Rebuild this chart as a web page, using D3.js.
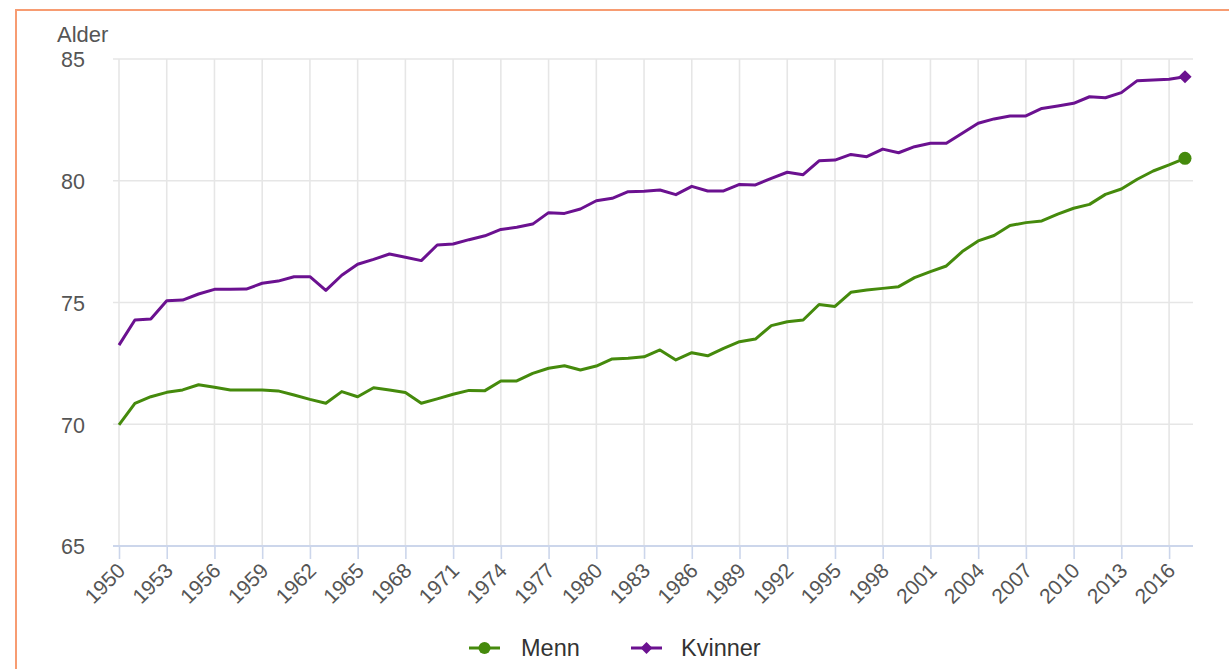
<!DOCTYPE html>
<html>
<head>
<meta charset="utf-8">
<script src="https://cdn.jsdelivr.net/npm/d3@7"></script>
<style>
  html, body { margin: 0; padding: 0; background: #ffffff; }
  svg { display: block; font-family: "Liberation Sans", Arial, sans-serif; }
</style>
</head>
<body>
<svg id="chart" width="1229" height="669"></svg>
<script>
const years = [1950,1951,1952,1953,1954,1955,1956,1957,1958,1959,
  1960,1961,1962,1963,1964,1965,1966,1967,1968,1969,
  1970,1971,1972,1973,1974,1975,1976,1977,1978,1979,
  1980,1981,1982,1983,1984,1985,1986,1987,1988,1989,
  1990,1991,1992,1993,1994,1995,1996,1997,1998,1999,
  2000,2001,2002,2003,2004,2005,2006,2007,2008,2009,
  2010,2011,2012,2013,2014,2015,2016,2017];

const menn = [69.97,70.86,71.13,71.31,71.41,71.62,71.52,71.41,71.41,71.41,
  71.37,71.20,71.02,70.86,71.34,71.13,71.50,71.41,71.30,70.86,
  71.04,71.23,71.39,71.38,71.78,71.78,72.09,72.30,72.40,72.23,
  72.39,72.68,72.71,72.77,73.05,72.64,72.94,72.81,73.12,73.39,
  73.50,74.05,74.21,74.28,74.92,74.84,75.42,75.51,75.58,75.65,
  76.02,76.27,76.50,77.09,77.53,77.75,78.16,78.28,78.35,78.63,
  78.87,79.03,79.44,79.66,80.06,80.40,80.65,80.92];

const kvinner = [73.25,74.28,74.32,75.07,75.10,75.35,75.54,75.54,75.55,75.79,
  75.88,76.06,76.06,75.50,76.12,76.57,76.77,76.99,76.86,76.72,
  77.36,77.40,77.58,77.74,78.00,78.09,78.22,78.69,78.66,78.84,
  79.18,79.28,79.55,79.57,79.62,79.43,79.77,79.58,79.58,79.85,
  79.83,80.10,80.35,80.25,80.82,80.85,81.08,80.99,81.30,81.15,
  81.40,81.54,81.54,81.95,82.36,82.54,82.66,82.66,82.97,83.07,
  83.18,83.45,83.41,83.62,84.11,84.14,84.17,84.27];

const xTicks = [1950,1953,1956,1959,1962,1965,1968,1971,1974,1977,1980,1983,
  1986,1989,1992,1995,1998,2001,2004,2007,2010,2013,2016];
const yTicks = [65,70,75,80,85];
const seriesNames = ["Menn","Kvinner"];
const seriesColors = ["#458a0c","#6b1190"];
const yTitle = "Alder";

const svg = d3.select("#chart");
const plot = {left: 113, right: 1193, top: 59, bottom: 546};

const x = d3.scaleLinear().domain([years[0], years[years.length-1]]).range([119, 1185]);
const y = d3.scaleLinear().domain([65, 85]).range([plot.bottom, plot.top]);

// Frame
svg.append("path")
  .attr("d", "M16,670 L16,10 L1230,10")
  .attr("fill", "none").attr("stroke", "#f79c72").attr("stroke-width", 2);

// Horizontal gridlines
svg.append("g").selectAll("line").data(yTicks.filter(t => t !== 65)).join("line")
  .attr("x1", plot.left).attr("x2", plot.right)
  .attr("y1", d => y(d)).attr("y2", d => y(d))
  .attr("stroke", "#e6e6e6").attr("stroke-width", 1.6);

// Vertical gridlines
svg.append("g").selectAll("line").data(xTicks).join("line")
  .attr("x1", d => x(d)).attr("x2", d => x(d))
  .attr("y1", plot.top).attr("y2", plot.bottom)
  .attr("stroke", "#e6e6e6").attr("stroke-width", 1.6);

// X axis via d3.axisBottom
const xAxis = d3.axisBottom(x).tickValues(xTicks).tickFormat(d3.format("d"))
  .tickSizeInner(13).tickSizeOuter(0);
const gx = svg.append("g").attr("transform", `translate(0,${plot.bottom})`).call(xAxis);
gx.select(".domain").remove();
gx.append("line").attr("x1", plot.left).attr("x2", plot.right).attr("y1", 0).attr("y2", 0)
  .attr("stroke", "#ccd6eb").attr("stroke-width", 2);
gx.selectAll(".tick line").attr("stroke", "#ccd6eb").attr("stroke-width", 1.6);
gx.selectAll(".tick text")
  .attr("fill", "#555555")
  .style("font-size", "21px")
  .attr("text-anchor", "end")
  .attr("x", 0).attr("y", 0).attr("dy", 0)
  .attr("transform", "translate(7,26) rotate(-45)");

// Y axis via d3.axisLeft
const yAxis = d3.axisLeft(y).tickValues(yTicks).tickSize(0).tickPadding(0);
const gy = svg.append("g").attr("transform", "translate(85,0)").call(yAxis);
gy.select(".domain").remove();
gy.selectAll(".tick text")
  .attr("fill", "#555555")
  .style("font-size", "21.5px")
  .attr("dy", "0.36em");

// Y title
svg.append("text").attr("x", 57).attr("y", 42)
  .attr("fill", "#555555").style("font-size", "22px").text(yTitle);

// Lines
const line = d3.line().x((d, i) => x(years[i])).y(d => y(d));
[menn, kvinner].forEach((vals, si) => {
  svg.append("path").datum(vals)
    .attr("fill", "none").attr("stroke", seriesColors[si])
    .attr("stroke-width", 3).attr("stroke-linejoin", "round")
    .attr("d", line);
});

// End markers
const lastIdx = years.length - 1;
svg.append("circle").attr("cx", x(years[lastIdx])).attr("cy", y(menn[lastIdx]))
  .attr("r", 6.5).attr("fill", seriesColors[0]);
svg.append("path").attr("d", d3.symbol().type(d3.symbolDiamond2).size(110)())
  .attr("transform", `translate(${x(years[lastIdx])},${y(kvinner[lastIdx])})`)
  .attr("fill", seriesColors[1]);

// Legend
const legendItems = [
  {name: seriesNames[0], color: seriesColors[0], lx: 469, tx: 521, marker: "circle"},
  {name: seriesNames[1], color: seriesColors[1], lx: 631, tx: 681, marker: "diamond"}
];
const lg = svg.append("g");
legendItems.forEach(it => {
  lg.append("line").attr("x1", it.lx).attr("x2", it.lx + 31).attr("y1", 648).attr("y2", 648)
    .attr("stroke", it.color).attr("stroke-width", 3);
  if (it.marker === "circle") {
    lg.append("circle").attr("cx", it.lx + 15.5).attr("cy", 648).attr("r", 6).attr("fill", it.color);
  } else {
    lg.append("path").attr("d", d3.symbol().type(d3.symbolDiamond2).size(90)())
      .attr("transform", `translate(${it.lx + 15.5},648)`).attr("fill", it.color);
  }
  lg.append("text").attr("x", it.tx).attr("y", 656)
    .attr("fill", "#333333").style("font-size", "23.5px").text(it.name);
});
</script>
</body>
</html>
